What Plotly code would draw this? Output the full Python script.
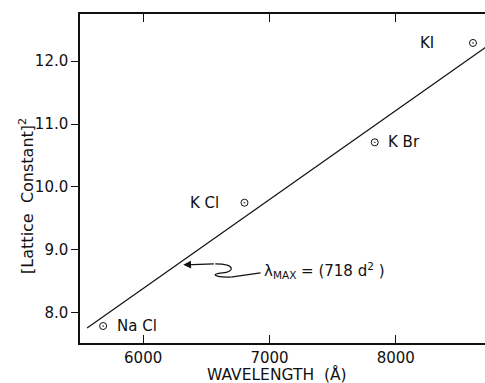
import plotly.graph_objects as go

compounds = ["Na Cl", "K Cl", "K Br", "KI"]
wavelength = [5683, 6802, 7833, 8611]
lattice_sq = [7.79, 9.75, 10.71, 12.29]

fit_wavelength = [5556, 8710]
fit_lattice_sq = [7.76, 12.22]

label_side = ["right", "left", "right", "left"]
label_shift = [12, -23, 11, -37]

x_ticks = [6000, 7000, 8000]
y_ticks = [8.0, 9.0, 10.0, 11.0, 12.0]

x_title = "WAVELENGTH  (Å)"
y_title = "[Lattice  Constant]<sup>2</sup>"

font_family = "DejaVu Sans"
ink = "#111111"

fig = go.Figure()

fig.add_trace(go.Scatter(
    x=fit_wavelength, y=fit_lattice_sq, mode="lines",
    line=dict(color=ink, width=1.2), showlegend=False, hoverinfo="skip"))

fig.add_trace(go.Scatter(
    x=wavelength, y=lattice_sq, mode="markers", cliponaxis=False,
    marker=dict(symbol="circle-open-dot", size=7, color=ink,
                line=dict(color=ink, width=1)),
    showlegend=False))

for name, xv, yv, side, sh in zip(compounds, wavelength, lattice_sq, label_side, label_shift):
    fig.add_annotation(x=xv, y=yv, text=name, showarrow=False,
                       xanchor="left" if side == "right" else "right",
                       xshift=sh, font=dict(family=font_family, size=15, color=ink))

# arrow pointing to the line
fig.add_annotation(x=6317, y=8.762, ax=6571, ay=8.778, axref="x", ayref="y",
                   xref="x", yref="y", text="", showarrow=True,
                   arrowhead=2, arrowsize=1.3, arrowwidth=1.2, arrowcolor=ink)
fig.add_shape(type="path", xref="x", yref="y",
              path="M 6571,8.778 C 6740,8.778 6720,8.645 6627,8.635 "
                   "C 6530,8.62 6560,8.556 6706,8.571 L 6929,8.635",
              line=dict(color=ink, width=1.2))
fig.add_annotation(x=6940, y=8.68, xref="x", yref="y", xanchor="left",
                   text="λ<sub>MAX</sub> = (718 d<sup>2</sup> )", showarrow=False,
                   font=dict(family=font_family, size=15, color=ink))

# axis titles
fig.add_annotation(x=0.486, y=-0.097, xref="paper", yref="paper",
                   xanchor="center", yanchor="middle", showarrow=False,
                   text=x_title, font=dict(family=font_family, size=15.5, color=ink))
fig.add_annotation(x=-0.131, y=0.447, xref="paper", yref="paper",
                   xanchor="center", yanchor="middle", showarrow=False,
                   textangle=-90,
                   text=y_title, font=dict(family=font_family, size=16, color=ink))

fig.update_layout(
    width=485, height=383,
    margin=dict(l=80, r=0, t=14, b=40),
    paper_bgcolor="white", plot_bgcolor="white",
    font=dict(family=font_family, size=15, color=ink),
    xaxis=dict(range=[5500, 8706], tickvals=x_ticks, ticks="inside", ticklen=8,
               tickwidth=1.2, tickcolor=ink, showline=True, linecolor=ink,
               linewidth=1.5, mirror="ticks", showgrid=False, zeroline=False,
               automargin=False),
    yaxis=dict(range=[7.52, 12.75], tickvals=y_ticks, tickformat=".1f",
               ticks="outside", ticklen=7, tickwidth=1.2, tickcolor=ink,
               showline=True, linecolor=ink, linewidth=1.5, showgrid=False,
               zeroline=False, automargin=False),
)

fig.write_html(
    "out.html",
    config={"displayModeBar": False},
    post_script="document.body.style.margin='0';document.body.style.padding='0';"
                "document.body.style.overflow='hidden';",
)
